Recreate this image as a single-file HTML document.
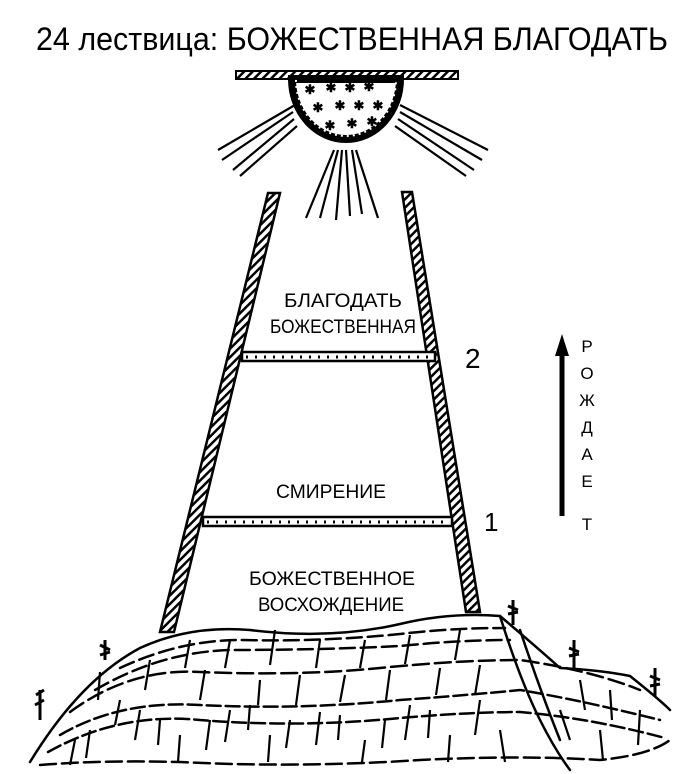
<!DOCTYPE html>
<html><head><meta charset="utf-8"><style>
html,body{margin:0;padding:0;background:#fff;}
svg{display:block}
text{font-family:"Liberation Sans",sans-serif;fill:#000}
</style></head><body>
<svg width="698" height="774" viewBox="0 0 698 774" xmlns="http://www.w3.org/2000/svg">
<defs>
<pattern id="h" width="6" height="6" patternUnits="userSpaceOnUse" patternTransform="rotate(45)">
<rect width="6" height="6" fill="#fff"/><rect width="2.5" height="6" fill="#000"/></pattern>
</defs>
<text x="36" y="50" font-size="32" textLength="632" lengthAdjust="spacingAndGlyphs">24  лествица:  БОЖЕСТВЕННАЯ БЛАГОДАТЬ</text>
<rect x="236" y="71" width="222" height="8" fill="url(#h)" stroke="#000" stroke-width="2"/>
<path d="M292 79 A54 60 0 0 0 400 79 Z" fill="#fff" stroke="#000" stroke-width="8"/>
<path d="M296 80 A50 56 0 0 0 396 80" fill="none" stroke="#fff" stroke-width="2" stroke-dasharray="2 4"/>
<g font-size="13" font-weight="bold" text-anchor="middle">
<text x="310" y="94">✱</text><text x="331" y="92">✱</text><text x="350" y="92">✱</text><text x="369" y="91">✱</text>
<text x="318" y="112">✱</text><text x="340" y="110">✱</text><text x="359" y="110">✱</text><text x="378" y="110">✱</text>
<text x="330" y="130">✱</text><text x="352" y="128">✱</text><text x="372" y="126">✱</text>
</g>
<g stroke="#000" stroke-width="2.2" fill="none">
<line x1="295" y1="105" x2="218" y2="150"/><line x1="293" y1="112" x2="222" y2="160"/><line x1="294" y1="119" x2="233" y2="170"/><line x1="297" y1="126" x2="240" y2="176"/>
<line x1="400" y1="105" x2="488" y2="150"/><line x1="400" y1="112" x2="482" y2="160"/><line x1="398" y1="119" x2="474" y2="170"/><line x1="395" y1="126" x2="466" y2="176"/>
<line x1="334" y1="150" x2="306" y2="218"/><line x1="338" y1="150" x2="320" y2="218"/><line x1="342" y1="150" x2="336" y2="220"/><line x1="346" y1="150" x2="350" y2="216"/><line x1="352" y1="150" x2="362" y2="214"/><line x1="356" y1="150" x2="378" y2="218"/>
</g>
<path d="M268 193 L280 193 L174 632 L160 632 Z" fill="url(#h)" stroke="#000" stroke-width="2.5"/>
<path d="M402 192 L412 192 L480 612 L466 612 Z" fill="url(#h)" stroke="#000" stroke-width="2.5"/>
<rect x="242" y="352" width="193" height="9" fill="#fff" stroke="#000" stroke-width="2.5"/>
<line x1="246" y1="357" x2="432" y2="357" stroke="#000" stroke-width="3" stroke-dasharray="2 7"/>
<rect x="203" y="517" width="249" height="9" fill="#fff" stroke="#000" stroke-width="2.5"/>
<line x1="207" y1="522" x2="448" y2="522" stroke="#000" stroke-width="3" stroke-dasharray="2 7"/>
<g font-size="19" text-anchor="middle">
<text x="343" y="307" textLength="118" lengthAdjust="spacingAndGlyphs">БЛАГОДАТЬ</text>
<text x="343" y="333" textLength="146" lengthAdjust="spacingAndGlyphs">БОЖЕСТВЕННАЯ</text>
<text x="331" y="498" textLength="110" lengthAdjust="spacingAndGlyphs">СМИРЕНИЕ</text>
<text x="332" y="585" textLength="166" lengthAdjust="spacingAndGlyphs">БОЖЕСТВЕННОЕ</text>
<text x="331" y="611" textLength="146" lengthAdjust="spacingAndGlyphs">ВОСХОЖДЕНИЕ</text>
</g>
<text x="465" y="368" font-size="28">2</text>
<text x="484" y="531" font-size="26">1</text>
<line x1="562" y1="352" x2="562" y2="516" stroke="#000" stroke-width="5"/>
<path d="M555 356 L562 334 L569 356 Z" fill="#000"/>
<g font-size="17" text-anchor="middle">
<text x="587" y="352">Р</text><text x="587" y="379">О</text><text x="587" y="406">Ж</text><text x="587" y="433">Д</text><text x="587" y="460">А</text><text x="587" y="487">Е</text><text x="587" y="530">Т</text>
</g>
<g stroke="#000" stroke-width="2.5" fill="none" stroke-linecap="round">
<path d="M30 762 Q80 680 140 648 Q190 625 250 630 Q330 640 400 624 Q450 612 500 616 Q540 650 560 668 Q600 670 630 676 Q660 700 670 710"/>
<path d="M48 752 Q120 712 200 720 Q300 728 400 718 Q470 712 520 712 Q590 718 665 738" stroke-dasharray="14 5"/>
<path d="M60 735 Q120 700 200 705 Q300 710 400 700 Q470 695 520 690 Q580 700 660 720" stroke-dasharray="14 5"/>
<path d="M70 712 Q130 668 200 672 Q300 676 380 668 Q460 660 520 660 Q590 670 640 690" stroke-dasharray="16 6"/>
<path d="M95 690 Q160 652 230 650 Q320 650 400 646 Q460 640 510 640" stroke-dasharray="15 6"/>
<path d="M120 668 Q180 640 240 640 Q320 642 400 634 Q450 628 505 628" stroke-dasharray="15 6"/>
<path d="M40 765 Q100 760 180 762 Q300 768 420 760 Q520 755 600 760 Q650 755 670 740" stroke-dasharray="16 6"/>
<path d="M500 616 Q520 680 540 720 Q555 750 570 770"/>
<path d="M520 630 Q540 690 560 740"/>
</g>
<g stroke="#000" stroke-width="2.2" fill="none">
<path d="M100 672 L98 700 M150 660 L145 690 M190 640 L185 668 M205 670 L200 700 M230 640 L225 668 M275 630 L270 665 M260 680 L258 705 M300 675 L296 705 M320 640 L316 668 M345 675 L340 702 M365 640 L360 668 M390 670 L386 700 M410 635 L405 664 M440 668 L436 695 M460 630 L455 660 M480 665 L475 695 M90 730 L86 758 M140 710 L135 740 M180 735 L178 762 M230 710 L225 742 M270 735 L268 762 M320 712 L316 745 M365 740 L362 762 M410 705 L405 740 M450 735 L448 762 M480 700 L475 735 M580 680 L585 710 M610 690 L612 720 M600 730 L603 760 M640 710 L638 745 M560 710 L570 740 M500 730 L505 762 M120 700 L115 725 M160 720 L158 745 M210 720 L206 750 M250 705 L248 730 M290 720 L286 748 M340 715 L338 740 M385 720 L382 748 M430 710 L428 738 M75 740 L70 765"/>
</g>
<g stroke="#000" stroke-width="3" fill="none">
<path d="M40 720 L40 690 M36 695 L44 690 M35 705 L44 700"/>
<path d="M105 660 L105 640 M100 645 L110 650 M100 655 L110 652"/>
<path d="M513 625 L513 600 M508 606 L518 610 M508 614 L518 612"/>
<path d="M574 668 L574 640 M569 648 L579 652 M569 656 L579 654"/>
<path d="M655 697 L655 668 M650 676 L660 680 M650 686 L660 684"/>
</g>
</svg>
</body></html>
